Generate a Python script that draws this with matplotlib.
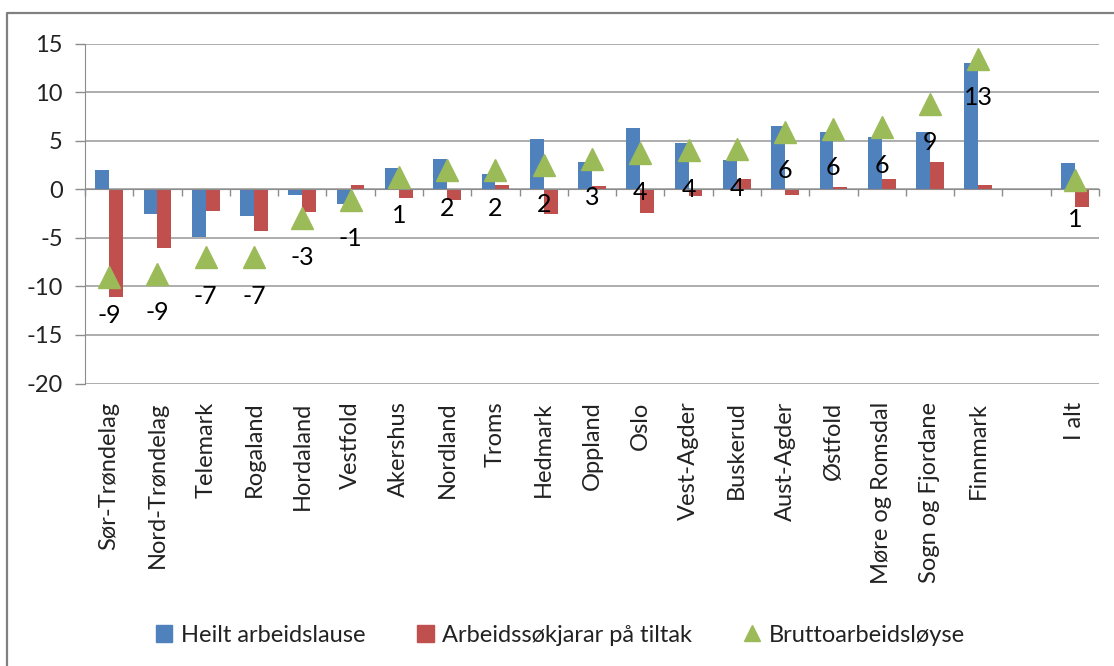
import numpy as np
import matplotlib
matplotlib.use("Agg")
import matplotlib.pyplot as plt
from matplotlib.patches import Patch
from matplotlib.lines import Line2D

plt.rcParams['font.family'] = ['Lato', 'DejaVu Sans']
plt.rcParams['axes.unicode_minus'] = False

# data ('' = empty slot before the total)
fylke = ['Sør-Trøndelag', 'Nord-Trøndelag', 'Telemark', 'Rogaland', 'Hordaland',
         'Vestfold', 'Akershus', 'Nordland', 'Troms', 'Hedmark', 'Oppland', 'Oslo',
         'Vest-Agder', 'Buskerud', 'Aust-Agder', 'Østfold', 'Møre og Romsdal',
         'Sogn og Fjordane', 'Finnmark', '', 'I alt']
heilt = [2.0, -2.5, -4.9, -2.8, -0.6, -1.5, 2.2, 3.1, 1.6, 5.2, 2.8, 6.3,
         4.8, 3.0, 6.5, 5.9, 5.4, 5.9, 13.0, np.nan, 2.7]
tiltak = [-11.1, -6.1, -2.2, -4.3, -2.3, 0.4, -0.9, -1.1, 0.4, -2.5, 0.3, -2.4,
          -0.7, 1.1, -0.6, 0.2, 1.1, 2.8, 0.4, np.nan, -1.8]
brutto = [-9.0, -8.7, -7.0, -7.0, -3.0, -1.1, 1.3, 2.0, 2.0, 2.45, 3.1, 3.7,
          4.0, 4.1, 5.9, 6.2, 6.4, 8.8, 13.4, np.nan, 0.9]
yticks = [-20, -15, -10, -5, 0, 5, 10, 15]

blue = '#4F81BD'
red = '#C0504D'
green = '#9BBB59'
grey = '#8c8c8c'
fs = 17

fig = plt.figure(figsize=(11.14, 6.66), dpi=100)
ax = fig.add_axes([85/1114, 1 - 383.5/666, (1099 - 85)/1114, (383.5 - 43.5)/666])

x = np.arange(len(fylke))
w = 1/3.5
ax.bar(x - w/2, heilt, w, color=blue, zorder=2)
ax.bar(x + w/2, tiltak, w, color=red, zorder=2)
ax.plot(x, brutto, linestyle='none', marker='^', markersize=16,
        color=green, zorder=3)

for xi, v in zip(x, brutto):
    if np.isnan(v):
        continue
    ax.annotate(f"{v:.0f}", (xi, v), xytext=(0, -28), textcoords='offset points',
                ha='center', va='center', fontsize=fs + 1, color='black', zorder=4)

ax.set_xlim(-0.5, len(fylke) - 0.5)
ax.set_ylim(-20, 15)
ax.set_yticks(yticks)
ax.yaxis.grid(True, color='#a0a0a0', linewidth=1.2)
ax.set_axisbelow(True)
ax.tick_params(axis='y', length=7, width=1, color=grey, pad=9, labelsize=fs,
               labelcolor='#222222')

# x axis line at zero with ticks between categories
ax.spines['bottom'].set_position(('data', 0))
ax.spines['bottom'].set_color(grey)
ax.spines['left'].set_color(grey)
ax.spines['top'].set_visible(False)
ax.spines['right'].set_visible(False)
ax.set_xticks(np.arange(-0.5, len(fylke), 1))
ax.tick_params(axis='x', length=5, width=1, color=grey, labelbottom=False)

# category names at the bottom of the plot area
sec = ax.secondary_xaxis('bottom')
sec.set_xticks(x, labels=fylke, rotation=90)
sec.tick_params(length=0, pad=13, labelsize=fs, labelcolor='#222222')
sec.spines['bottom'].set_visible(False)

handles = [Patch(color=blue), Patch(color=red),
           Line2D([], [], linestyle='none', marker='^', markersize=12, color=green)]
fig.legend(handles, ['Heilt arbeidslause', 'Arbeidssøkjarar på tiltak', 'Bruttoarbeidsløyse'],
           loc='center', bbox_to_anchor=(0.503, 1 - 635/666), ncol=3, frameon=False,
           fontsize=fs, handlelength=0.7, handleheight=0.7, handletextpad=0.35,
           columnspacing=2.2, labelcolor='#222222')

# chart border (top and left visible in the crop)
fig.add_artist(Line2D([7/1114, 7/1114, 1.0], [0.0, 1 - 13/666, 1 - 13/666],
                      transform=fig.transFigure, color='#808080', linewidth=1.6))

fig.savefig('out.png', dpi=100)
